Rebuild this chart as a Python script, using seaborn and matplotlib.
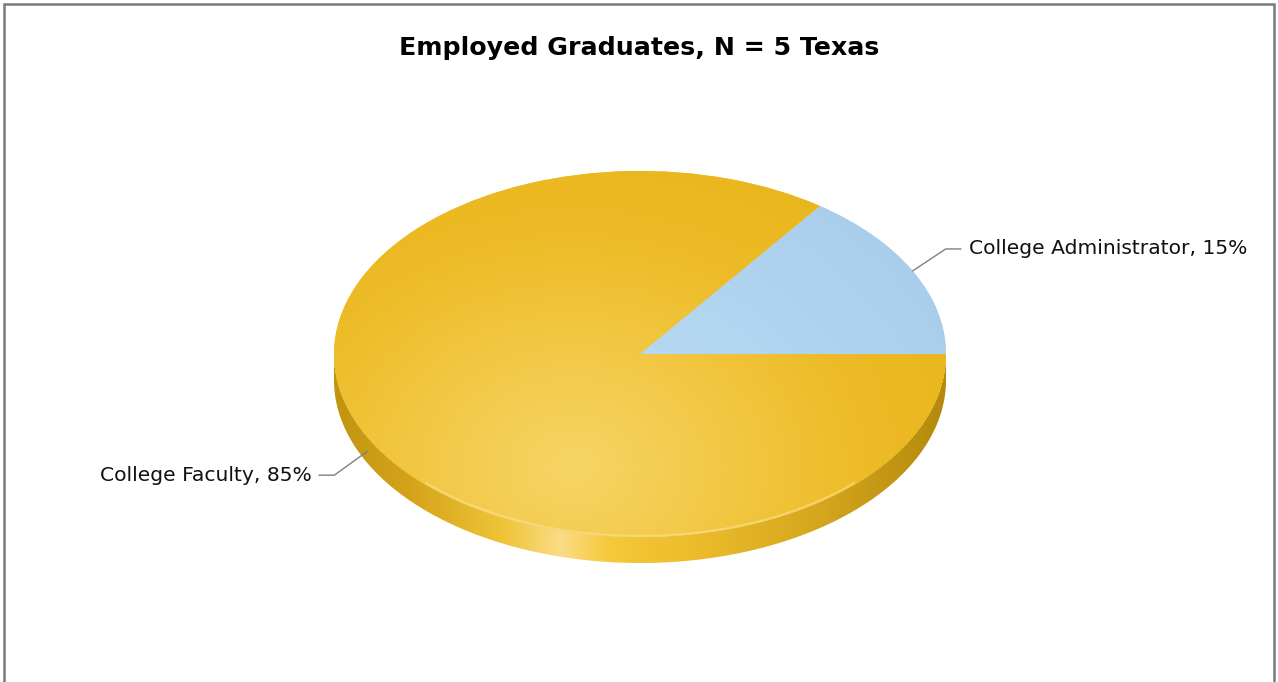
import numpy as np
import matplotlib
matplotlib.use("Agg")
import matplotlib.pyplot as plt
import seaborn as sns
from matplotlib.colors import LinearSegmentedColormap
from matplotlib.patches import Polygon, Rectangle

# ---- data ----
categories = ["College Administrator", "College Faculty"]
shares = [15, 85]
title = "Employed Graduates, N = 5 Texas"

sns.set_theme(style="white")
plt.rcParams['font.family'] = ['DejaVu Sans']

W, H = 1278, 682
fig = plt.figure(figsize=(W / 100, H / 100), dpi=100)
fig.patch.set_facecolor("white")
ax = fig.add_axes([0, 0, 1, 1])

# geometry (pixels): center, radii, depth
cxp, cyp, rx, ry, depth_px = 640, 354, 306, 183, 26
depth = depth_px / ry

base_cols = ["#b3d6f1", "#efbf2a"]

# ---- side band (front, visible half) ----
th = np.linspace(np.pi, 2 * np.pi, 300)
top = np.c_[np.cos(th), np.sin(th)]
bot = top[::-1] - [0, depth]
band = Polygon(np.r_[top, bot], closed=True, facecolor="none", edgecolor="none", zorder=1)
ax.add_patch(band)
side_cmap = LinearSegmentedColormap.from_list(
    "side", [(0.0, "#c29410"), (0.12, "#d4a31a"), (0.28, "#f0c53a"), (0.37, "#fbdc86"),
             (0.45, "#f5c93a"), (0.6, "#ebbb2a"), (0.8, "#d4a61e"), (1.0, "#b48a0c")])
gx = np.linspace(0, 1, 400)[None, :].repeat(2, axis=0)
im = ax.imshow(gx, extent=(-1, 1, -1 - depth, 0), cmap=side_cmap, aspect="auto",
               interpolation="bilinear", zorder=1)
im.set_clip_path(band)

# ---- top face via pie ----
wedges, _ = ax.pie(shares, colors=base_cols, startangle=0, counterclock=True,
                   radius=1, center=(0, 0), frame=True,
                   wedgeprops=dict(linewidth=0, zorder=2))
ax.set_aspect("auto")
ax.set_xlim(-cxp / rx, (W - cxp) / rx)
ax.set_ylim((cyp - H) / ry, cyp / ry)
ax.axis("off")

# radial gradients clipped to wedges
xs = np.linspace(-1, 1, 500)
ys = np.linspace(-1, 1, 500)
X, Y = np.meshgrid(xs, ys)
dist = np.hypot(X + 0.22, (Y + 0.62) * 0.75)
t = np.clip(dist / 1.45, 0, 1)
grad_cmaps = [
    LinearSegmentedColormap.from_list("adm", ["#bcdcf4", "#b3d6f1", "#a8cdeb"]),
    LinearSegmentedColormap.from_list("fac", ["#f7d466", "#f2c845", "#edbb26", "#eab51b"]),
]
for w, cm in zip(wedges, grad_cmaps):
    g = ax.imshow(t, extent=(-1, 1, -1, 1), origin="lower", cmap=cm, vmin=0, vmax=1,
                  aspect="auto", interpolation="bilinear", zorder=3)
    g.set_clip_path(w)

# subtle rim highlight along front edge
thr = np.linspace(np.radians(225), np.radians(315), 200)
ax.plot(0.99 * np.cos(thr), 0.99 * np.sin(thr) - 0.004, color="#fbe3a0", lw=1.4,
        alpha=0.55, zorder=4, solid_capstyle="round")

# ---- labels with leader lines ----
for w, cat, v in zip(wedges, categories, shares):
    mid = np.radians((w.theta1 + w.theta2) / 2)
    x0, y0 = np.cos(mid), np.sin(mid)
    if y0 < 0:
        y0 -= depth * 0.55
    side = 1 if x0 >= 0 else -1
    x1 = x0 + side * 0.108
    y1 = y0 + (0.12 if y0 > 0 else -0.13)
    x2 = x1 + side * 0.05
    ax.plot([x0, x1, x2], [y0, y1, y1], color="#808080", lw=1.0, zorder=5)
    ax.text(x2 + side * 0.025, y1, f"{cat}, {v}%", ha="left" if side > 0 else "right",
            va="center", fontsize=14.6, color="#111111", zorder=6)

fig.text(0.5, 1 - 48 / H, title, ha="center", va="center", fontsize=18.2,
         fontweight="bold", color="black")

# frame border
fig.patches.append(Rectangle((4 / W, -0.01), (1274 - 4) / W, (H - 4) / H + 0.01,
                             transform=fig.transFigure, fill=False, edgecolor="#7a7a7a",
                             lw=1.8, zorder=10))

fig.savefig("out.png", dpi=100, facecolor="white")
